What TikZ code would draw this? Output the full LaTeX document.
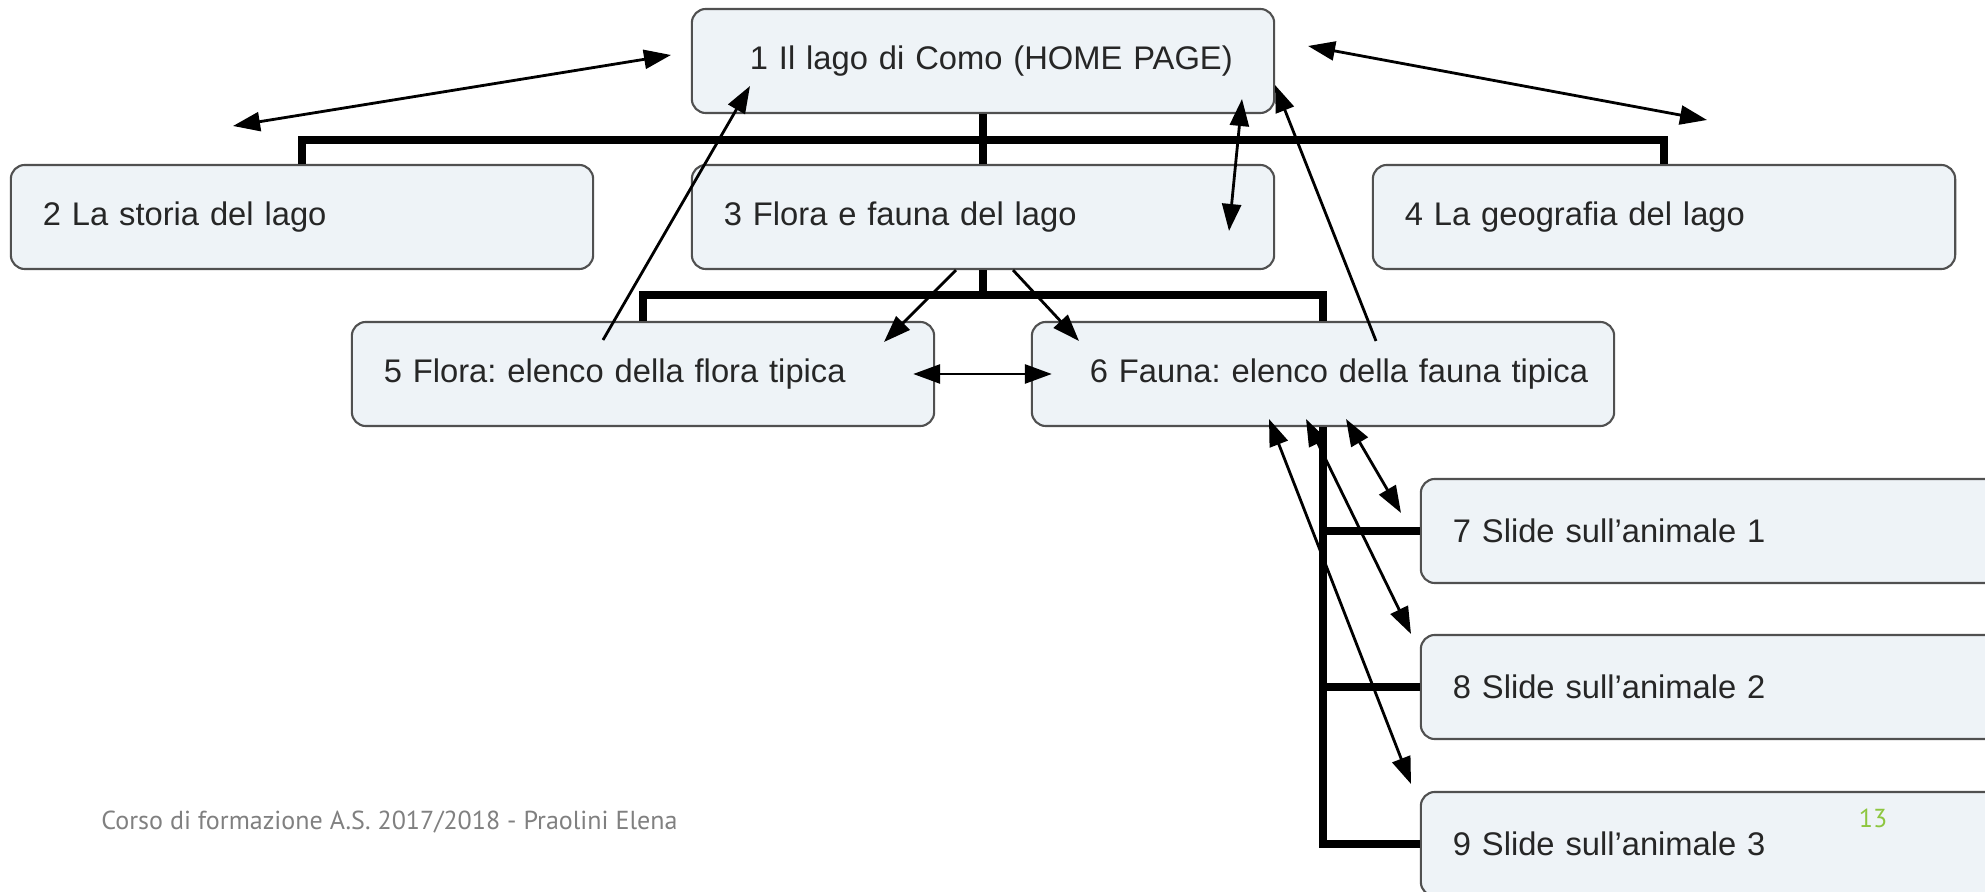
\documentclass[tikz,border=0pt]{standalone}
\usepackage{fontspec}
\setmainfont{Liberation Sans}
\newfontfamily\footfont{PT Sans}
\usetikzlibrary{arrows.meta}
\frenchspacing

\definecolor{boxfill}{HTML}{EEF3F7}
\definecolor{boxline}{HTML}{505050}
\definecolor{footgray}{HTML}{808080}
\definecolor{pagegreen}{HTML}{8DC63F}

\tikzset{
  pagebox/.style={draw=boxline, line width=0.6pt, fill=boxfill, rounded corners=0.14cm,
    minimum width=5.82cm, minimum height=1.04cm, text width=5.18cm, inner xsep=0.32cm,
    align=left, text=black!85, font=\fontsize{9.3}{11}\selectfont},
  deep/.style={text width=5.5cm, inner xsep=0.16cm, execute at begin node={\hspace*{0.42cm}}},
  bus/.style={line width=2.1pt},
  link/.style={line width=0.8pt, {Triangle[length=0.27cm,width=0.19cm]}-{Triangle[length=0.27cm,width=0.19cm]}},
  oneway/.style={line width=0.8pt, -{Triangle[length=0.27cm,width=0.19cm]}}
}

\begin{document}
\begin{tikzpicture}[x=0.01cm, y=-0.01cm]
\useasboundingbox (0,0) rectangle (1985,892);
\clip (0,0) rectangle (1985,892);

% The pages of the site
\node[pagebox, deep] (n1) at (983,61) {1 Il lago di Como (HOME PAGE)};
\node[pagebox] (n2) at (302,217) {2 La storia del lago};
\node[pagebox] (n3) at (983,217) {3 Flora e fauna del lago};
\node[pagebox] (n4) at (1664,217) {4 La geografia del lago};
\node[pagebox] (n5) at (643,374) {5 Flora: elenco della flora tipica};
\node[pagebox, deep] (n6) at (1323,374) {6 Fauna: elenco della fauna tipica};
\node[pagebox] (n7) at (1712,531) {7 Slide sull'animale 1};
\node[pagebox] (n8) at (1712,687) {8 Slide sull'animale 2};
\node[pagebox] (n9) at (1712,844) {9 Slide sull'animale 3};

% Tree lines
\coordinate (bus1) at (983,140);
\coordinate (bus2) at (983,295);
\draw[bus] (n1.south) -- (bus1) -- (n3.north);
\draw[bus] (n2.north) |- (bus1) -| (n4.north);
\draw[bus] (n3.south) -- (bus2);
\draw[bus] (n5.north) |- (bus2) -| (n6.north);
\draw[bus] (n6.south) |- (n9.west);
\draw[bus] (n6.south |- n7.west) -- (n7.west);
\draw[bus] (n6.south |- n8.west) -- (n8.west);

% Free ends of the links
\coordinate (left1) at (233,126);
\coordinate (right1) at (1707,120);
\coordinate (in1a) at (671,55);
\coordinate (in1b) at (1308,46);
\coordinate (in1c) at (1242,99);
\coordinate (in1d) at (750,86);
\coordinate (in1e) at (1275,85);
\coordinate (in3) at (1229,231);
\coordinate (in5) at (884,342);
\coordinate (out5) at (603,340);
\coordinate (in6) at (1079,341);
\coordinate (out6) at (1376,341);
\coordinate (low6a) at (1346,419);
\coordinate (low6b) at (1306,419);
\coordinate (low6c) at (1269,419);
\coordinate (in7) at (1401,513);
\coordinate (in8) at (1411,634);
\coordinate (in9) at (1411,784);

% Links between the pages
\draw[link] (left1) -- (in1a);
\draw[link] (in1b) -- (right1);
\draw[link] (in1c) -- (in3);
\draw[oneway] (out5) -- (in1d);
\draw[oneway] (out6) -- (in1e);
\draw[oneway] ([xshift=-0.27cm]n3.south) -- (in5);
\draw[oneway] ([xshift=0.30cm]n3.south) -- (in6);
\draw[link] ([xshift=-0.22cm]n5.east) -- ([xshift=0.21cm]n6.west);
\draw[link] (low6a) -- (in7);
\draw[link] (low6b) -- (in8);
\draw[link] (low6c) -- (in9);

% Footer
\node[anchor=west, text=footgray, font=\footfont\fontsize{7.4}{9}\selectfont] (foot) at (89,822) {Corso di formazione A.S. 2017/2018 - Praolini Elena};
\node[text=pagegreen, font=\footfont\fontsize{7.4}{9}\selectfont] (num) at (1873,818) {13};
\end{tikzpicture}
\end{document}
